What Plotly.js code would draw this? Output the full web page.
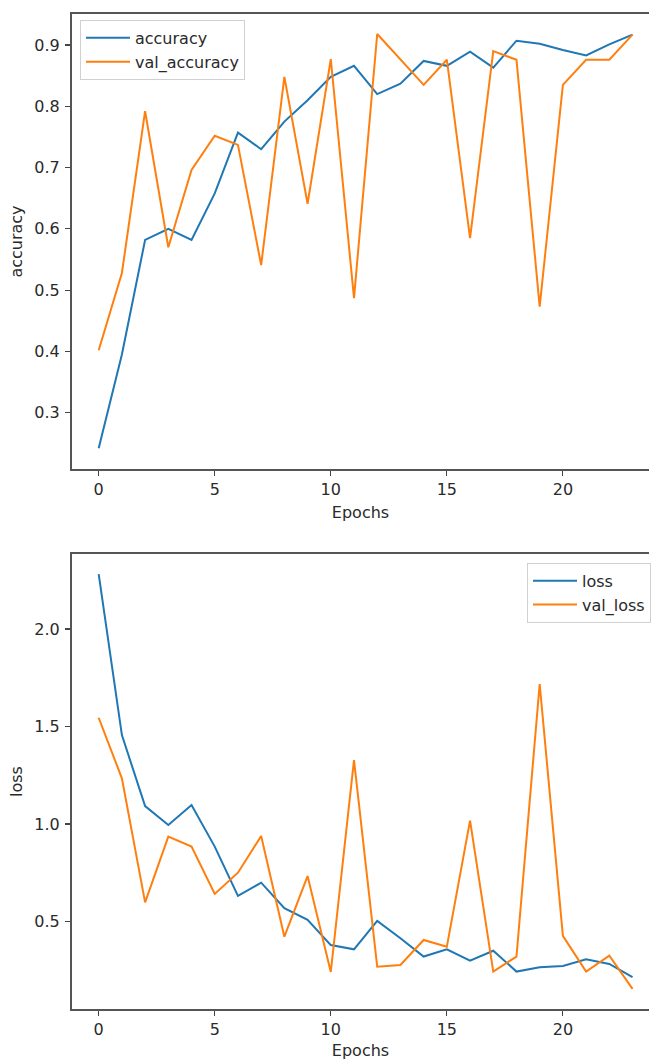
<!DOCTYPE html>
<html>
<head>
<meta charset="utf-8">
<script src="https://cdn.plot.ly/plotly-3.0.1.min.js"></script>
<style>html,body{margin:0;padding:0;background:#fff;}#chart{width:651px;height:1060px;}</style>
</head>
<body>
<div id="chart"></div>
<script>
const epochs = [0,1,2,3,4,5,6,7,8,9,10,11,12,13,14,15,16,17,18,19,20,21,22,23];
const accuracy = [0.242,0.395,0.582,0.600,0.582,0.658,0.757,0.730,0.775,0.810,0.848,0.866,0.820,0.837,0.874,0.866,0.889,0.863,0.907,0.902,0.892,0.883,0.901,0.917];
const valAccuracy = [0.402,0.528,0.792,0.570,0.696,0.752,0.737,0.541,0.848,0.641,0.877,0.487,0.918,0.876,0.835,0.876,0.585,0.890,0.876,0.473,0.835,0.876,0.876,0.917];
const loss = [2.282,1.456,1.092,0.995,1.097,0.884,0.631,0.699,0.568,0.508,0.379,0.357,0.503,0.414,0.320,0.357,0.299,0.350,0.243,0.265,0.272,0.306,0.282,0.214];
const valLoss = [1.545,1.234,0.598,0.935,0.884,0.641,0.750,0.938,0.422,0.733,0.241,1.328,0.268,0.277,0.405,0.371,1.017,0.243,0.320,1.718,0.426,0.243,0.325,0.154];
const xTicks = [0,5,10,15,20];

const blue = '#1f77b4', orange = '#ff7f0e';
const font = {family: 'DejaVu Sans, sans-serif', size: 16, color: '#2a2a2a'};

const traces = [
  {x: epochs, y: accuracy, name: 'accuracy', mode: 'lines', line: {color: blue, width: 2}, xaxis: 'x', yaxis: 'y', legend: 'legend'},
  {x: epochs, y: valAccuracy, name: 'val_accuracy', mode: 'lines', line: {color: orange, width: 2}, xaxis: 'x', yaxis: 'y', legend: 'legend'},
  {x: epochs, y: loss, name: 'loss', mode: 'lines', line: {color: blue, width: 2}, xaxis: 'x2', yaxis: 'y2', legend: 'legend2'},
  {x: epochs, y: valLoss, name: 'val_loss', mode: 'lines', line: {color: orange, width: 2}, xaxis: 'x2', yaxis: 'y2', legend: 'legend2'}
];

const axCommon = {
  showgrid: false, zeroline: false, showline: true, linecolor: '#555', linewidth: 2,
  ticks: 'outside', ticklen: 5, tickwidth: 1.2, tickcolor: '#444', tickfont: font, automargin: false
};

const layout = {
  width: 651, height: 1060,
  margin: {l: 72, r: 0, t: 14, b: 51},
  paper_bgcolor: '#fff', plot_bgcolor: '#fff',
  font: font,
  showlegend: true,
  xaxis: Object.assign({}, axCommon, {domain: [0, 1], anchor: 'y', range: [-1.15, 23.71], tickvals: xTicks, mirror: true,
    title: {text: 'Epochs', font: font, standoff: 9}}),
  yaxis: Object.assign({}, axCommon, {domain: [0.5427, 1], anchor: 'x', range: [0.2082, 0.9506], dtick: 0.1, tick0: 0, tickformat: '.1f',
    ticklabelstandoff: 2, title: {text: 'accuracy', font: font, standoff: 8}}),
  xaxis2: Object.assign({}, axCommon, {domain: [0, 1], anchor: 'y2', range: [-1.15, 23.71], tickvals: xTicks, mirror: true,
    title: {text: 'Epochs', font: font, standoff: 9}}),
  yaxis2: Object.assign({}, axCommon, {domain: [0, 0.4573], anchor: 'x2', range: [0.051, 2.385], dtick: 0.5, tick0: 0, tickformat: '.1f',
    ticklabelstandoff: 2, title: {text: 'loss', font: font, standoff: 8}}),
  legend: {x: 0.0138, y: 0.994, xanchor: 'left', yanchor: 'top', bgcolor: 'rgba(255,255,255,0.8)', bordercolor: '#d0d0d0', borderwidth: 1,
    font: font, itemwidth: 44},
  legend2: {x: 0.789, y: 0.4485, xanchor: 'left', yanchor: 'top', bgcolor: 'rgba(255,255,255,0.8)', bordercolor: '#d0d0d0', borderwidth: 1,
    font: font, itemwidth: 44}
};

Plotly.newPlot('chart', traces, layout, {displayModeBar: false, staticPlot: true});
</script>
</body>
</html>
